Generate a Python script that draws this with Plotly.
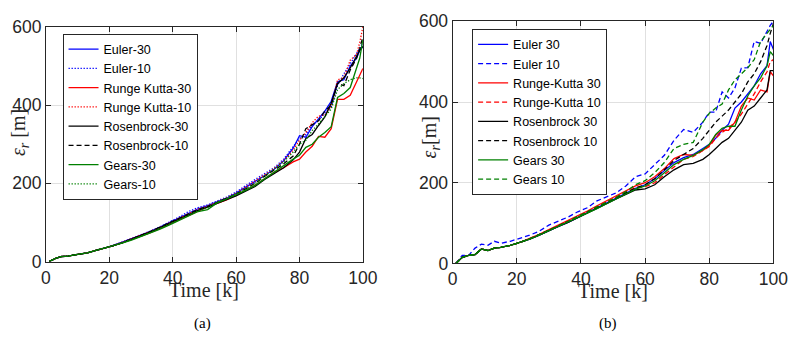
import plotly.graph_objects as go

# Shared sample times (k)
time_k = [1, 3, 5, 7, 9, 11, 13, 15, 18, 21, 24, 27, 30, 33, 36, 39, 42, 45, 48, 51,
          54, 57, 60, 63, 66, 69, 72, 75, 78, 80, 82, 84, 86, 88, 90, 92, 94, 96, 98, 99, 100]

# ---- Panel (a): position error for each integrator, 30 and 10 samples ----
a_euler_30 = [0, 8, 13, 14, 17, 20, 22, 27, 33, 40, 49, 58, 67, 77, 88, 100, 112, 125, 135, 143,
              152, 162, 175, 190, 203, 220, 236, 258, 290, 322, 318, 345, 365, 385, 410, 460, 465, 500, 520, 540, 550]
a_euler_10 = [0, 8, 13, 14, 17, 20, 22, 27, 33, 41, 50, 59, 68, 78, 89, 101, 114, 128, 138, 145,
              154, 165, 178, 195, 210, 225, 240, 262, 292, 315, 325, 350, 360, 380, 395, 450, 480, 505, 530, 545, 560]
a_rk_30 = [0, 8, 13, 14, 17, 20, 22, 27, 33, 40, 48, 56, 65, 74, 85, 96, 107, 119, 130, 140,
           149, 158, 170, 182, 195, 212, 228, 240, 255, 262, 280, 295, 320, 318, 340, 415, 415, 425, 460, 480, 494]
a_rk_10 = [0, 8, 13, 14, 17, 20, 22, 27, 33, 40, 49, 58, 67, 76, 87, 99, 111, 123, 134, 142,
           152, 163, 175, 190, 205, 222, 238, 258, 285, 310, 330, 355, 372, 375, 395, 465, 470, 515, 530, 560, 600]
a_ros_30 = [0, 8, 13, 14, 17, 20, 22, 27, 33, 40, 48, 57, 66, 76, 87, 98, 108, 120, 131, 139,
            148, 157, 168, 180, 192, 210, 225, 240, 260, 280, 315, 325, 348, 370, 405, 455, 470, 495, 525, 540, 550]
a_ros_10 = [0, 8, 13, 14, 17, 20, 22, 27, 33, 40, 48, 57, 67, 77, 88, 99, 110, 122, 133, 141,
            151, 160, 172, 186, 200, 218, 235, 250, 270, 300, 340, 350, 360, 385, 400, 455, 450, 490, 520, 545, 575]
a_gears_30 = [0, 8, 13, 14, 17, 20, 22, 27, 33, 40, 47, 55, 64, 73, 83, 94, 105, 116, 128, 133,
              150, 160, 170, 182, 195, 212, 228, 245, 262, 272, 292, 300, 318, 330, 345, 420, 430, 445, 495, 520, 567]
a_gears_10 = [0, 8, 13, 14, 17, 20, 22, 27, 33, 40, 48, 56, 65, 75, 85, 96, 107, 119, 130, 138,
              152, 162, 173, 186, 200, 218, 235, 255, 280, 300, 310, 335, 352, 370, 390, 440, 455, 465, 470, 470, 468]

# ---- Panel (b) ----
b_euler_30 = [0, 15, 20, 22, 36, 32, 38, 40, 45, 52, 60, 70, 82, 92, 102, 114, 125, 138, 150, 162,
              175, 186, 195, 210, 230, 250, 262, 270, 285, 295, 310, 330, 345, 385, 400, 420, 440, 470, 490, 550, 530]
b_euler_10 = [0, 20, 20, 38, 48, 45, 55, 50, 55, 63, 70, 80, 95, 105, 115, 128, 138, 155, 165, 175,
              192, 215, 222, 245, 268, 305, 332, 325, 350, 375, 375, 425, 410, 435, 484, 485, 550, 545, 575, 590, 600]
b_rk_30 = [0, 15, 20, 22, 36, 32, 38, 40, 45, 52, 62, 72, 84, 95, 106, 118, 130, 143, 155, 167,
           180, 192, 200, 215, 235, 260, 270, 268, 280, 292, 318, 330, 330, 350, 390, 410, 405, 430, 425, 475, 465]
b_rk_10 = [0, 15, 20, 22, 36, 32, 38, 40, 45, 52, 61, 71, 83, 93, 104, 116, 127, 140, 152, 164,
           177, 188, 190, 200, 220, 240, 258, 265, 280, 290, 310, 325, 335, 350, 370, 395, 420, 450, 475, 500, 505]
b_ros_30 = [0, 15, 20, 22, 36, 32, 38, 40, 45, 52, 60, 70, 82, 92, 102, 113, 124, 136, 148, 160,
            172, 182, 185, 195, 215, 232, 245, 248, 258, 270, 285, 300, 310, 330, 350, 380, 390, 410, 430, 478, 478]
b_ros_10 = [0, 15, 20, 22, 36, 32, 38, 40, 45, 52, 61, 71, 83, 93, 104, 115, 126, 139, 151, 163,
            176, 187, 195, 210, 232, 255, 270, 285, 310, 330, 350, 365, 380, 400, 420, 450, 470, 500, 540, 570, 595]
b_gears_30 = [0, 15, 20, 22, 36, 32, 38, 40, 45, 52, 60, 70, 81, 91, 101, 112, 123, 136, 148, 160,
              173, 184, 192, 205, 225, 245, 258, 268, 282, 295, 320, 335, 340, 340, 380, 415, 440, 460, 490, 525, 515]
b_gears_10 = [0, 15, 20, 22, 36, 32, 38, 40, 45, 52, 61, 71, 83, 93, 104, 116, 127, 140, 152, 164,
              178, 195, 205, 225, 250, 285, 295, 300, 350, 372, 385, 395, 430, 455, 470, 485, 505, 550, 570, 580, 590]

BLUE, RED, BLACK, GREEN = "#0000FF", "#FF0000", "#000000", "#008000"
DOT = "1.3px,1.7px"
DASH = "5px,3px"

panel_a = [
    ("Euler-30", a_euler_30, BLUE, "solid"),
    ("Euler-10", a_euler_10, BLUE, DOT),
    ("Runge Kutta-30", a_rk_30, RED, "solid"),
    ("Runge Kutta-10", a_rk_10, RED, DOT),
    ("Rosenbrock-30", a_ros_30, BLACK, "solid"),
    ("Rosenbrock-10", a_ros_10, BLACK, DASH),
    ("Gears-30", a_gears_30, GREEN, "solid"),
    ("Gears-10", a_gears_10, GREEN, DOT),
]
panel_b = [
    ("Euler 30", b_euler_30, BLUE, "solid"),
    ("Euler 10", b_euler_10, BLUE, DASH),
    ("Runge-Kutta 30", b_rk_30, RED, "solid"),
    ("Runge-Kutta 10", b_rk_10, RED, DASH),
    ("Rosenbrock 30", b_ros_30, BLACK, "solid"),
    ("Rosenbrock 10", b_ros_10, BLACK, DASH),
    ("Gears 30", b_gears_30, GREEN, "solid"),
    ("Gears 10", b_gears_10, GREEN, DASH),
]

fig = go.Figure()
for name, vals, col, dash in panel_a:
    fig.add_trace(go.Scatter(x=time_k, y=vals, name=name, mode="lines",
                             line=dict(color=col, dash=dash, width=1.3),
                             xaxis="x", yaxis="y", legend="legend"))
for name, vals, col, dash in panel_b:
    fig.add_trace(go.Scatter(x=time_k, y=vals, name=name, mode="lines",
                             line=dict(color=col, dash=dash, width=1.3),
                             xaxis="x2", yaxis="y2", legend="legend2"))

W, H = 806, 346
tick_font = dict(family="Liberation Sans, Arial, sans-serif", size=17.5, color="#262626")
axis_common = dict(showline=True, linecolor="#262626", linewidth=1, mirror="ticks",
                   ticks="inside", ticklen=5, tickcolor="#262626",
                   showgrid=True, gridcolor="#e0e0e0", gridwidth=1,
                   zeroline=False, tickfont=tick_font)

def dom_x(p0, p1):
    return [p0 / W, p1 / W]

def dom_y(top, bottom):
    return [(H - bottom) / H, (H - top) / H]

legend_common = dict(bgcolor="white", bordercolor="#262626", borderwidth=1,
                     font=dict(family="Liberation Sans, Arial, sans-serif", size=12.5, color="black"),
                     tracegroupgap=0, itemwidth=30, xanchor="left", yanchor="top")

fig.update_layout(
    width=W, height=H, margin=dict(l=0, r=0, t=0, b=0),
    paper_bgcolor="white", plot_bgcolor="white", showlegend=True,
    xaxis=dict(domain=dom_x(42, 367), range=[0, 100], tickvals=[0, 20, 40, 60, 80, 100],
               anchor="y", **axis_common),
    yaxis=dict(domain=dom_y(18, 267), range=[0, 600], tickvals=[0, 200, 400, 600],
               anchor="x", **axis_common),
    xaxis2=dict(domain=dom_x(459, 788), range=[0, 100], tickvals=[0, 20, 40, 60, 80, 100],
                anchor="y2", **axis_common),
    yaxis2=dict(domain=dom_y(12, 269), range=[0, 600], tickvals=[0, 200, 400, 600],
                anchor="x2", **axis_common),
    legend=dict(x=59 / W, y=(H - 25) / H, **legend_common),
    legend2=dict(x=479 / W, y=(H - 20) / H, **legend_common),
)

serif = dict(family="Liberation Serif, Times New Roman, serif", size=20, color="#262626")
notes = [
    dict(x=204 / W, y=(H - 297) / H, text="Time [k]", font=serif),
    dict(x=623 / W, y=(H - 298) / H, text="Time [k]", font=serif),
    dict(x=203 / W, y=(H - 333) / H, text="(a)", font=dict(serif, size=15, color="black")),
    dict(x=618 / W, y=(H - 333) / H, text="(b)", font=dict(serif, size=15, color="black")),
    dict(x=15 / W, y=(H - 130) / H, text="<i>ε<sub>r</sub></i> [m]", font=serif, textangle=-90),
    dict(x=436 / W, y=(H - 135) / H, text="<i>ε<sub>r</sub></i>[m]", font=serif, textangle=-90),
]
for n in notes:
    fig.add_annotation(xref="paper", yref="paper", showarrow=False,
                       xanchor="center", yanchor="middle", **n)

fig.write_html("out.html")
